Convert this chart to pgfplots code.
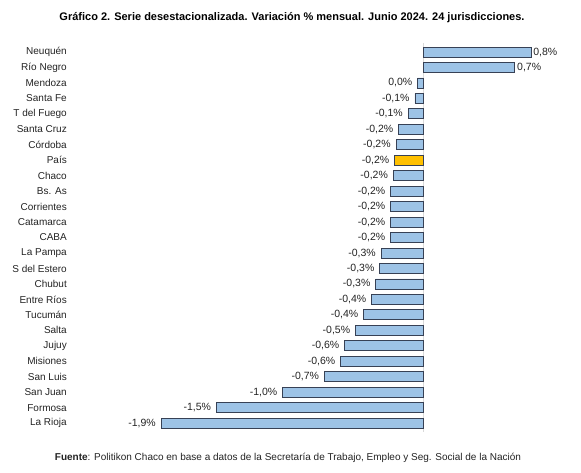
\documentclass[border=0pt]{standalone}
\usepackage{fontspec}
\setmainfont{Liberation Sans}
\usepackage{pgfplots}
\usepackage{pgfplotstable}
\pgfplotsset{compat=1.18}

\definecolor{barblue}{RGB}{157,195,230}
\definecolor{baredge}{RGB}{55,65,85}
\definecolor{bargold}{RGB}{255,192,0}
\definecolor{txt}{RGB}{35,35,35}

% idx val lab  (idx 0 = top row)
\pgfplotstableread{
idx val lab
0 0.80 0,8
1 0.68 0,7
}\positivos

\pgfplotstableread{
idx val lab
2 -0.04 0,0
3 -0.06 -0,1
4 -0.11 -0,1
5 -0.18 -0,2
6 -0.20 -0,2
8 -0.22 -0,2
9 -0.24 -0,2
10 -0.24 -0,2
11 -0.24 -0,2
12 -0.24 -0,2
13 -0.31 -0,3
14 -0.32 -0,3
15 -0.35 -0,3
16 -0.38 -0,4
17 -0.44 -0,4
18 -0.50 -0,5
19 -0.58 -0,6
20 -0.61 -0,6
21 -0.73 -0,7
22 -1.04 -1,0
23 -1.53 -1,5
24 -1.94 -1,9
}\negativos

\pgfplotstableread{
idx val lab
7 -0.21 -0,2
}\pais

\begin{document}
\begin{tikzpicture}
\path[use as bounding box] (0,0) rectangle (581pt,473pt);

\begin{axis}[
  at={(153pt,42.2pt)}, anchor=south west,
  scale only axis,
  width=391.5pt, height=386.5pt,
  xmin=-2, xmax=0.9,
  ymin=-0.5, ymax=24.5,
  y dir=reverse,
  clip=false,
  axis line style={draw=none},
  xtick=\empty,
  ytick={0,...,24},
  major tick length=0pt,
  yticklabels={Neuquén,Río Negro,Mendoza,Santa Fe,T del Fuego,Santa Cruz,Córdoba,País,Chaco,Bs. As,Corrientes,Catamarca,CABA,La Pampa,S del Estero,Chubut,Entre Ríos,Tucumán,Salta,Jujuy,Misiones,San Luis,San Juan,Formosa,La Rioja},
  yticklabel style={anchor=east, inner sep=0pt, xshift=-86pt,
    font=\fontsize{10}{11}\selectfont, text=txt},
  xbar, bar width=10pt,
  point meta=explicit symbolic,
  nodes near coords={\pgfplotspointmeta\%},
  every node near coord/.append style={font=\fontsize{10.5}{11}\selectfont,
    text=txt},
]
\draw[black!15, line width=0.6pt] (axis cs:0,-0.6) -- (axis cs:0,24.6);

\addplot[bar shift=0pt, fill=barblue, draw=baredge, line width=0.8pt,
  every node near coord/.append style={anchor=west, inner sep=2pt}]
  table[x=val, y=idx, meta=lab] {\positivos};
\addplot[bar shift=0pt, fill=barblue, draw=baredge, line width=0.8pt,
  every node near coord/.append style={anchor=east, inner sep=5pt}]
  table[x=val, y=idx, meta=lab] {\negativos};
\addplot[bar shift=0pt, fill=bargold, draw=baredge, line width=0.8pt,
  every node near coord/.append style={anchor=east, inner sep=5pt}]
  table[x=val, y=idx, meta=lab] {\pais};
\end{axis}

\node[font=\bfseries\fontsize{11}{12}\selectfont, text=black]
  at (292pt,455pt) {Gráfico 2. Serie desestacionalizada. Variación \% mensual. Junio 2024. 24 jurisdicciones.};
\node[font=\fontsize{10}{11}\selectfont, text=txt]
  at (288pt,15pt) {\textbf{Fuente}: Politikon Chaco en base a datos de la Secretaría de Trabajo, Empleo y Seg. Social de la Nación};
\end{tikzpicture}
\end{document}
